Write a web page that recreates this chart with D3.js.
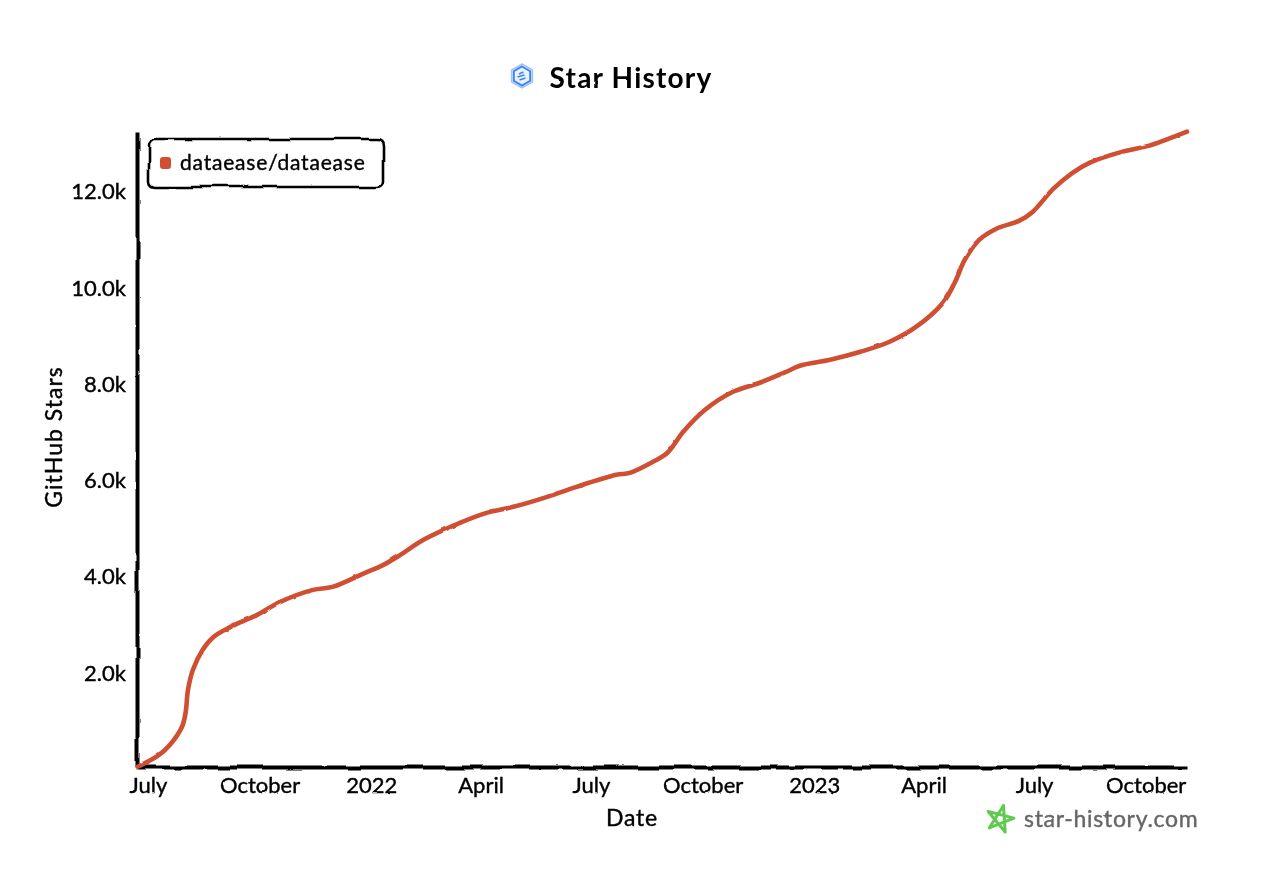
<!DOCTYPE html>
<html>
<head>
<meta charset="utf-8">
<title>Star History</title>
<script src="https://cdn.jsdelivr.net/npm/d3@7"></script>
<style>
  body { margin: 0; background: #fff; }
  svg text { font-family: "Lato", "Open Sans", sans-serif; fill: #000; }
</style>
</head>
<body>
<svg id="chart" width="1280" height="882"></svg>
<script>
// values
const seriesName = 'dataease/dataease';
const dates = ['2021-06-22','2021-07-09','2021-07-19','2021-07-29','2021-08-01','2021-08-03','2021-08-07','2021-08-15','2021-08-24','2021-09-07','2021-09-29','2021-10-18','2021-11-14','2021-11-30','2021-12-25','2022-01-11','2022-01-25','2022-02-13','2022-03-15','2022-04-06','2022-04-28','2022-05-26','2022-06-19','2022-07-22','2022-08-02','2022-08-21','2022-09-02','2022-09-15','2022-10-03','2022-10-26','2022-11-17','2022-12-09','2022-12-20','2023-01-14','2023-02-08','2023-03-04','2023-03-26','2023-04-17','2023-04-27','2023-05-05','2023-05-17','2023-05-31','2023-06-19','2023-06-30','2023-07-17','2023-08-02','2023-08-16','2023-09-12','2023-10-04','2023-10-18','2023-11-04'];
const stars = [0,229,458,832,1123,1602,2018,2434,2704,2912,3162,3432,3682,3744,4014,4202,4410,4722,5075,5283,5408,5616,5824,6074,6115,6344,6531,6968,7426,7800,7987,8216,8341,8466,8632,8840,9152,9651,10088,10546,10962,11190,11357,11544,12022,12355,12563,12792,12917,13042,13208];
const xTickDates = ['2021-07-01','2021-10-01','2022-01-01','2022-04-01','2022-07-01','2022-10-01','2023-01-01','2023-04-01','2023-07-01','2023-10-01'];
const xTickLabels = ['July','October','2022','April','July','October','2023','April','July','October'];
const yTickValues = [2000,4000,6000,8000,10000,12000];
const yTickLabels = ['2.0k','4.0k','6.0k','8.0k','10.0k','12.0k'];

const lineColor = '#d04f33';
const parseDate = d3.utcParse('%Y-%m-%d');
const points = dates.map((d, i) => ({ date: parseDate(d), stars: stars[i] }));

const svg = d3.select('#chart');

// wobbly pen look, no hand drawn font is installed so the lines carry it
const defs = svg.append('defs');
function addRough(id, freq, scale) {
  // region is big because some users of it sit inside translated groups
  const f = defs.append('filter').attr('id', id).attr('filterUnits', 'userSpaceOnUse')
    .attr('x', -1400).attr('y', -1400).attr('width', 3000).attr('height', 3000);
  f.append('feTurbulence').attr('type', 'fractalNoise').attr('baseFrequency', freq)
    .attr('numOctaves', 2).attr('seed', 4).attr('result', 'noise');
  f.append('feDisplacementMap').attr('in', 'SourceGraphic').attr('in2', 'noise')
    .attr('scale', scale).attr('xChannelSelector', 'R').attr('yChannelSelector', 'G');
}
addRough('rough', 0.03, 5);
addRough('roughLine', 0.08, 2);
addRough('roughText', 0.09, 1.6);

const x = d3.scaleUtc().domain([parseDate('2021-06-22'), parseDate('2023-11-04')]).range([137, 1187]);
const y = d3.scaleLinear().domain([0, 13200]).range([767, 132]);

// axes
const xAxis = svg.append('g').attr('transform', 'translate(0,767)')
  .call(d3.axisBottom(x)
    .tickValues(xTickDates.map(parseDate))
    .tickFormat((d, i) => xTickLabels[i])
    .tickSize(0).tickPadding(10));
const yAxis = svg.append('g').attr('transform', 'translate(137,0)')
  .call(d3.axisLeft(y)
    .tickValues(yTickValues)
    .tickFormat((d, i) => yTickLabels[i])
    .tickSize(0).tickPadding(11));

[xAxis, yAxis].forEach(a => {
  a.select('.domain').attr('stroke', '#000').attr('stroke-width', 4).attr('filter', 'url(#rough)');
  a.selectAll('text').attr('font-size', 22).attr('font-family', 'Lato').attr('fill', '#000')
    .attr('stroke', '#000').attr('stroke-width', 0.4).attr('filter', 'url(#roughText)');
});
yAxis.selectAll('text').attr('dy', '0.42em');

// the line
const line = d3.line().x(d => x(d.date)).y(d => y(d.stars)).curve(d3.curveCatmullRom.alpha(0.5));
svg.append('path').datum(points)
  .attr('d', line)
  .attr('fill', 'none')
  .attr('stroke', lineColor)
  .attr('stroke-width', 4.6)
  .attr('stroke-linecap', 'round')
  .attr('filter', 'url(#roughLine)');

// title with logo
const logo = svg.append('g').attr('transform', 'translate(522,76)');
const hexagon = d3.range(6).map(i => [Math.sin(i * Math.PI / 3), -Math.cos(i * Math.PI / 3)]);
const hexPath = r => d3.line().x(p => p[0] * r).y(p => p[1] * r).curve(d3.curveLinearClosed)(hexagon);
logo.append('path').attr('d', hexPath(12)).attr('fill', 'none').attr('stroke', '#9cc4fb').attr('stroke-width', 1.5);
logo.append('path').attr('d', hexPath(9.5)).attr('fill', '#eaf2fe').attr('stroke', '#3b82f6').attr('stroke-width', 2);
[[-3, 1.5, -3], [-4.5, 2.5, 0], [-2.5, 3.5, 3]].forEach(l => {
  logo.append('line').attr('x1', l[0]).attr('x2', l[1]).attr('y1', l[2] + 1).attr('y2', l[2] - 1)
    .attr('stroke', '#3b82f6').attr('stroke-width', 1.4);
});
svg.append('text').attr('x', 631).attr('y', 88).attr('text-anchor', 'middle')
  .attr('font-size', 28).attr('font-weight', 700).attr('letter-spacing', 1.2).attr('filter', 'url(#roughText)')
  .text('Star History');

// axis titles
svg.append('text').attr('x', 632).attr('y', 826).attr('text-anchor', 'middle')
  .attr('font-size', 23).attr('letter-spacing', 0.8).attr('stroke', '#000').attr('stroke-width', 0.4)
  .attr('filter', 'url(#roughText)').text('Date');
svg.append('text').attr('transform', 'translate(62,437) rotate(-90)').attr('text-anchor', 'middle')
  .attr('font-size', 23).attr('letter-spacing', 1).attr('stroke', '#000').attr('stroke-width', 0.4)
  .attr('filter', 'url(#roughText)').text('GitHub Stars');

// legend
svg.append('rect').attr('x', 149).attr('y', 139).attr('width', 234).attr('height', 48).attr('rx', 6)
  .attr('fill', '#fff').attr('stroke', '#000').attr('stroke-width', 2.6).attr('filter', 'url(#rough)');
svg.append('rect').attr('x', 160).attr('y', 157).attr('width', 11).attr('height', 12).attr('rx', 3)
  .attr('fill', lineColor);
svg.append('text').attr('x', 180).attr('y', 170).attr('font-size', 21).attr('letter-spacing', 0.8)
  .attr('stroke', '#000').attr('stroke-width', 0.4).attr('filter', 'url(#roughText)').text(seriesName);

// watermark
const star = svg.append('g').attr('transform', 'translate(1000,819)');
const starPts = [0, 2, 4, 1, 3].map(i => [Math.sin(i * 2 * Math.PI / 5 + 0.25), -Math.cos(i * 2 * Math.PI / 5 + 0.25)]);
star.append('path')
  .attr('d', d3.line().x(p => p[0] * 14).y(p => p[1] * 14).curve(d3.curveLinearClosed)(starPts))
  .attr('fill', 'none').attr('stroke', '#5ecb4e').attr('stroke-width', 3).attr('stroke-linejoin', 'round');
svg.append('text').attr('x', 1024).attr('y', 827).attr('font-size', 23).attr('letter-spacing', 0.7)
  .attr('stroke', '#666').attr('stroke-width', 0.4).attr('filter', 'url(#roughText)').style('fill', '#666').text('star-history.com');
</script>
</body>
</html>
